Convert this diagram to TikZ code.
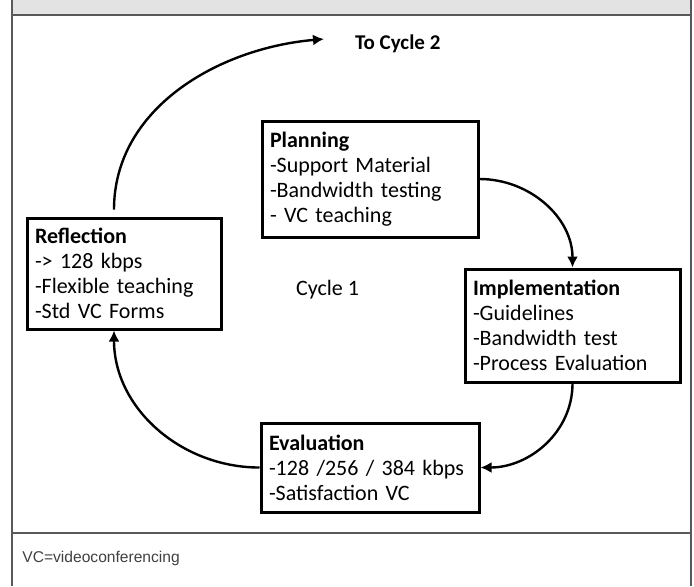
\documentclass[tikz,border=0pt]{standalone}
\usepackage{fontspec}
\setmainfont{Carlito}
\newfontfamily\notefont{Liberation Sans}
\usetikzlibrary{arrows.meta}

\begin{document}
\begin{tikzpicture}[x=0.5pt, y=0.5pt, font=\fontsize{11}{12.5}\selectfont,
    box/.style={draw, line width=1.5pt, align=left, anchor=north west, inner xsep=4pt, inner ysep=0pt},
    flow/.style={-{Latex[length=5.5pt, width=5.5pt]}, line width=1.2pt},
    frame/.style={draw=black!65, line width=0.8pt}]
    \useasboundingbox (0,0) rectangle (694,-586);

    % frame and header band
    \fill[black!11] (12,0) rectangle (691,-15);
    \draw[frame] (12,-15) -- (691,-15);
    \draw[frame] (12,-533) -- (691,-533);
    \draw[frame] (12,0) -- (12,-586);
    \draw[frame] (691,0) -- (691,-586);

    \node[box, text width=100pt, minimum height=58pt]    (P)  at (260.5,-119.5)  {\textbf{Planning} \\ -Support Material \\ -Bandwidth testing \\ - VC teaching};
    \node[box, text width=99.5pt, minimum height=56.5pt] (I)  at (463.5,-267.5)  {\textbf{Implementation} \\ -Guidelines \\ -Bandwidth test \\ -Process Evaluation};
    \node[box, text width=101pt, minimum height=44.5pt]  (E)  at (259.5,-421.5)  {\textbf{Evaluation} \\ -128 /256 / 384 kbps \\ -Satisfaction VC};
    \node[box, text width=89pt, minimum height=55.5pt]   (R)  at (25.5,-216.5)   {\textbf{Reflection} \\ -> 128 kbps \\ -Flexible teaching \\ -Std VC Forms};

    \node[anchor=west]                                   (C1) at (289,-290)      {Cycle 1};
    \node[anchor=west, font=\fontsize{10.5}{12}\selectfont\bfseries] (C2) at (348,-44) {To Cycle 2};
    \coordinate                                          (T)  at (324,-39);

    \node[anchor=west, inner sep=0pt, text=black!75, font=\notefont\fontsize{7.8}{9}\selectfont] (N) at (22,-558) {VC=videoconferencing};

    \draw[flow, shorten <=3.5pt] ([xshift=-5pt]R.north) to[out=90, in=185] (T);
    \draw[flow] (P.east) to[out=0, in=90] (I.north);
    \draw[flow] (I.south) to[out=-90, in=0] (E.east);
    \draw[flow] (E.west) to[out=180, in=-90] ([xshift=-5pt]R.south);
\end{tikzpicture}
\end{document}
